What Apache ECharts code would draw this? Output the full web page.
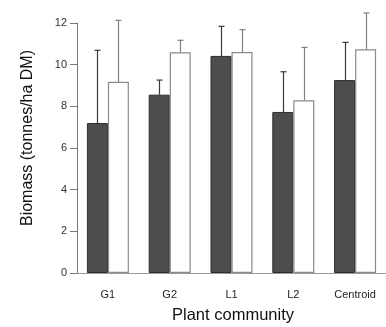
<!DOCTYPE html>
<html>
<head>
<meta charset="utf-8">
<script src="https://cdn.jsdelivr.net/npm/echarts@6/dist/echarts.min.js"></script>
<style>
  html, body { margin: 0; padding: 0; background: #fff; }
  #chart { width: 386px; height: 327px; }
</style>
</head>
<body>
<div id="chart"></div>
<script>
const categories = ['G1', 'G2', 'L1', 'L2', 'Centroid'];
const darkMean = [7.2, 8.56, 10.42, 7.73, 9.26];
const darkUpper = [10.69, 9.26, 11.84, 9.66, 11.07];
const lightMean = [9.18, 10.59, 10.61, 8.29, 10.74];
const lightUpper = [12.13, 11.17, 11.68, 10.83, 12.48];
const yTicks = [0, 2, 4, 6, 8, 10, 12];

const BAR_W = 21;

// upward-only error whisker, drawn from the bar top to the upper value
function errorSeries(mean, upper, offset, color) {
  return {
    type: 'custom',
    silent: true,
    z: 1,
    data: upper.map((u, i) => [i, u, mean[i]]),
    renderItem(params, api) {
      const idx = api.value(0);
      const top = api.coord([idx, api.value(1)]);
      const base = api.coord([idx, api.value(2)]);
      const x = Math.round(top[0] + offset) + 0.5;
      const style = { stroke: color, lineWidth: 1.2 };
      return {
        type: 'group',
        children: [
          { type: 'line', shape: { x1: x, y1: base[1], x2: x, y2: top[1] }, style },
          { type: 'line', shape: { x1: x - 3, y1: top[1], x2: x + 3, y2: top[1] }, style }
        ]
      };
    }
  };
}

const chart = echarts.init(document.getElementById('chart'), null, { renderer: 'canvas' });
chart.setOption({
  animation: false,
  textStyle: { fontFamily: 'Liberation Sans, Arial, sans-serif' },
  grid: { left: 77, right: -3, top: 23, bottom: 54, containLabel: false },
  xAxis: {
    type: 'category',
    data: categories,
    axisLine: { lineStyle: { color: '#9a9a9a', width: 1 } },
    axisTick: { show: false },
    axisLabel: { color: '#222', fontSize: 11, margin: 16 }
  },
  yAxis: {
    type: 'value',
    min: 0,
    max: 12,
    interval: 2,
    splitLine: { show: false },
    axisLine: { show: true, lineStyle: { color: '#777', width: 1 } },
    axisTick: { show: true, length: 7, lineStyle: { color: '#777' } },
    axisLabel: {
      color: '#333', fontSize: 11, margin: 10,
      formatter: v => (yTicks.includes(v) ? String(v) : '')
    }
  },
  graphic: [
    {
      type: 'text',
      x: 28, y: 138,
      rotation: Math.PI / 2,
      style: {
        text: 'Biomass (tonnes/ha DM)',
        fontSize: 16,
        fontFamily: 'Liberation Sans, Arial, sans-serif',
        fill: '#111',
        align: 'center',
        verticalAlign: 'middle'
      }
    },
    {
      type: 'text',
      x: 233, y: 315,
      style: {
        text: 'Plant community',
        fontSize: 16.5,
        fontFamily: 'Liberation Sans, Arial, sans-serif',
        fill: '#111',
        align: 'center',
        verticalAlign: 'middle'
      }
    }
  ],
  series: [
    errorSeries(darkMean, darkUpper, -BAR_W / 2, '#3a3a3a'),
    errorSeries(lightMean, lightUpper, BAR_W / 2, '#808080'),
    {
      type: 'bar',
      data: darkMean,
      barWidth: BAR_W,
      barGap: '0%',
      z: 3,
      itemStyle: { color: '#4d4d4d', borderColor: '#2e2e2e', borderWidth: 1 }
    },
    {
      type: 'bar',
      data: lightMean,
      barWidth: BAR_W,
      z: 3,
      itemStyle: { color: '#ffffff', borderColor: '#8a8a8a', borderWidth: 1.2 }
    }
  ]
});
</script>
</body>
</html>
